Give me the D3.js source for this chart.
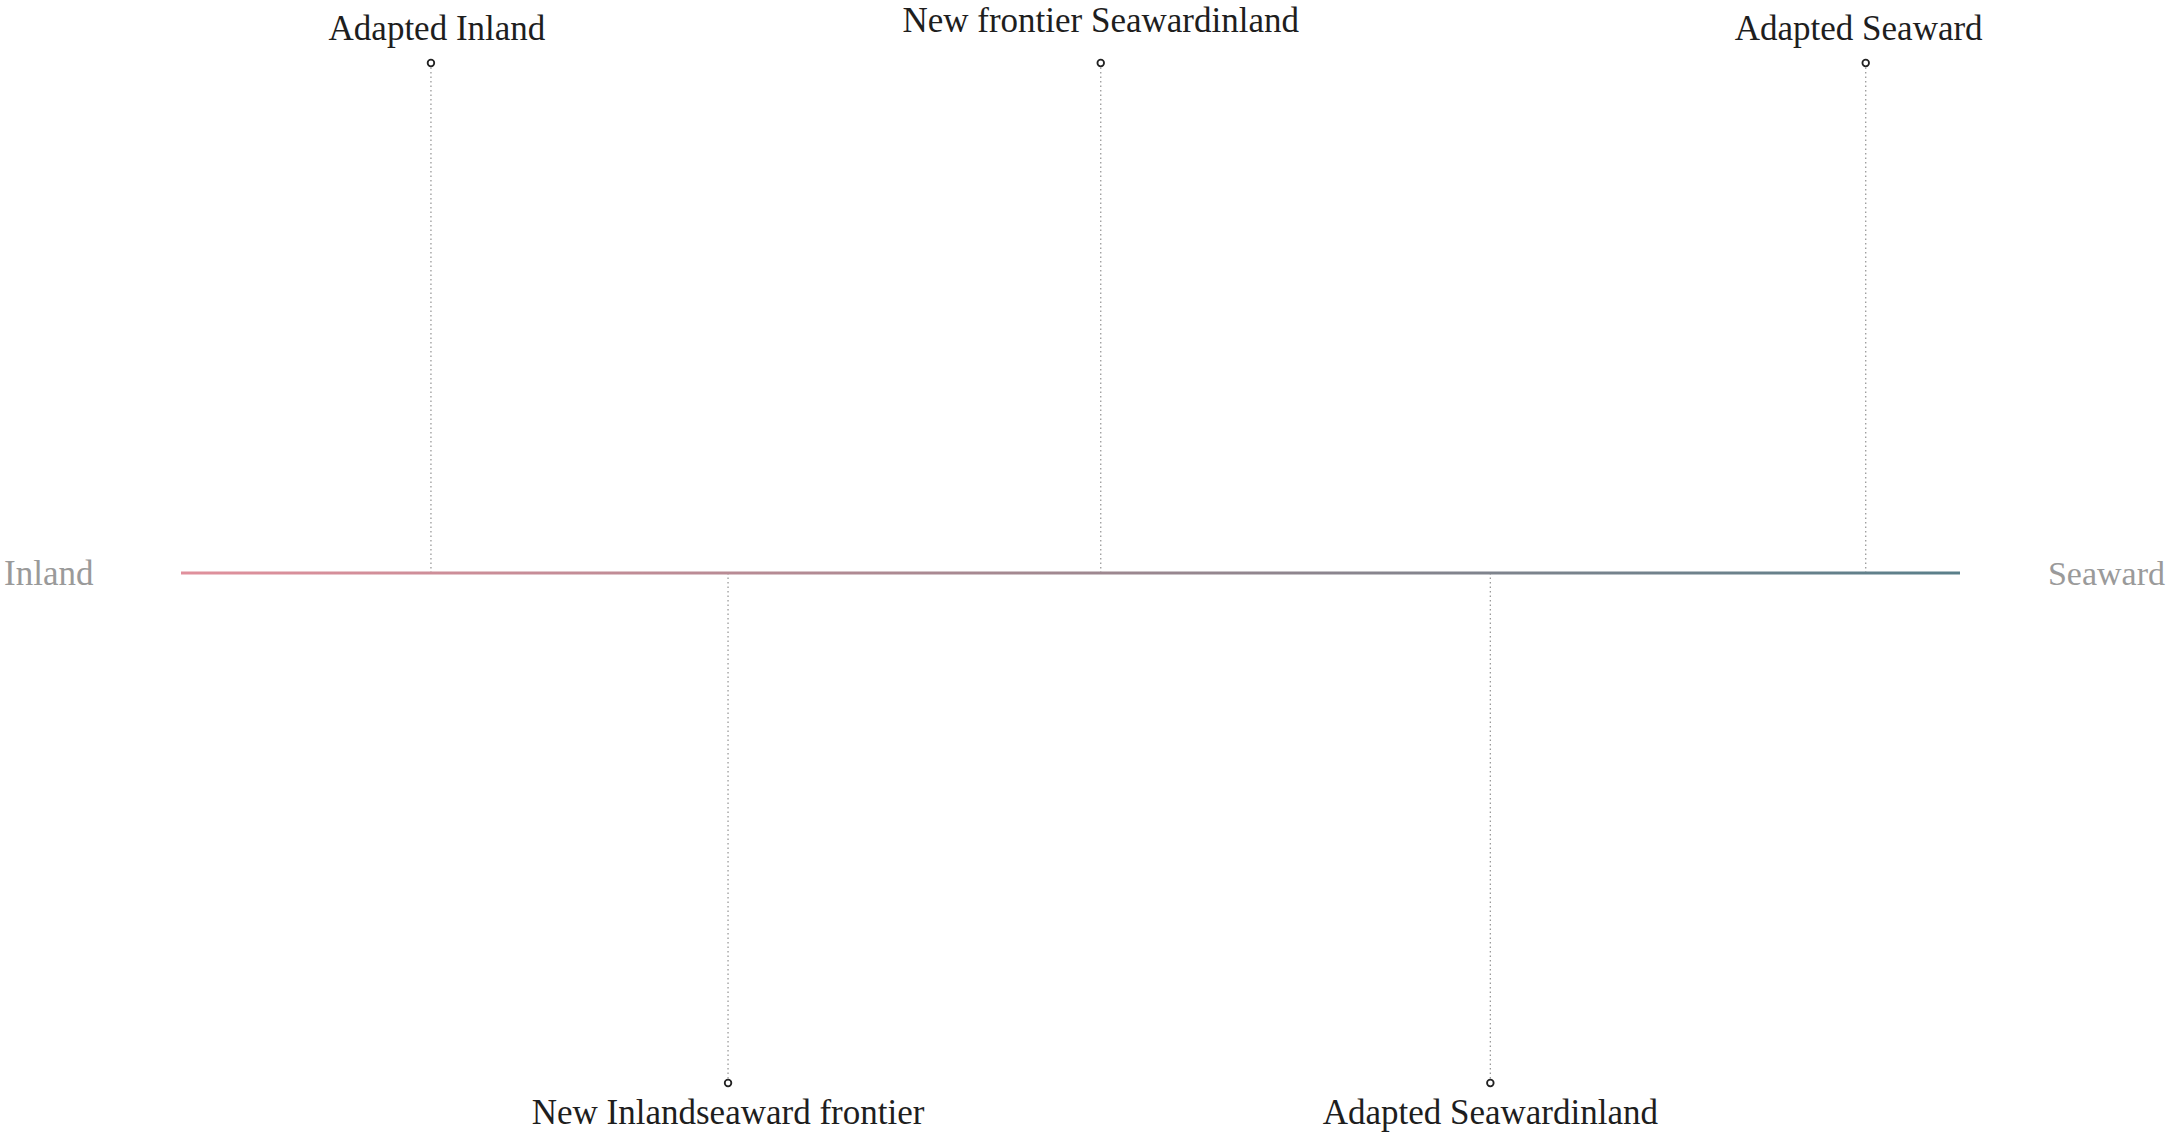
<!DOCTYPE html>
<html>
<head>
<meta charset="utf-8">
<script src="https://cdn.jsdelivr.net/npm/d3@7"></script>
<style>
  html, body { margin: 0; padding: 0; background: #fff; }
  svg { display: block; }
  text { font-family: "Liberation Serif", "DejaVu Serif", serif; }
</style>
</head>
<body>
<svg id="chart" width="2171" height="1133"></svg>
<script>
// ---- data ----
const endLabels = ["Inland", "Seaward"];
const eventNames = ["Adapted Inland", "New Inlandseaward frontier", "New frontier Seawardinland", "Adapted Seaward", "Adapted Seawardinland"];
const eventPositions = [14.05, 30.75, 51.7, 94.7, 73.6];
const eventSides = [1, -1, 1, 1, -1];
const axisDomain = [0, 100];

// ---- layout ----
const W = 2171, H = 1133;
const x0 = 181, x1 = 1960, axisY = 573;
const svg = d3.select("#chart");

const x = d3.scaleLinear().domain(axisDomain).range([x0, x1]);
const y = d3.scaleLinear().domain([-1, 1]).range([1083, 63]);

const defs = svg.append("defs");
const grad = defs.append("linearGradient")
  .attr("id", "axisGrad")
  .attr("gradientUnits", "userSpaceOnUse")
  .attr("x1", x0).attr("x2", x1).attr("y1", 0).attr("y2", 0);
grad.append("stop").attr("offset", "0%").attr("stop-color", "#e0909c");
grad.append("stop").attr("offset", "50%").attr("stop-color", "#a08890");
grad.append("stop").attr("offset", "100%").attr("stop-color", "#5a7f8a");

const events = eventNames.map((n, i) => ({ name: n, pos: eventPositions[i], side: eventSides[i] }));

// dotted stems
svg.selectAll("line.stem").data(events).enter().append("line")
  .attr("class", "stem")
  .attr("x1", d => x(d.pos)).attr("x2", d => x(d.pos))
  .attr("y1", y(0)).attr("y2", d => y(d.side))
  .attr("stroke", "#9a9a9a")
  .attr("stroke-width", 1.3)
  .attr("stroke-dasharray", "1.5,3");

// main axis line
svg.append("line")
  .attr("x1", x0).attr("x2", x1)
  .attr("y1", axisY).attr("y2", axisY)
  .attr("stroke", "url(#axisGrad)")
  .attr("stroke-width", 3);

// circles
svg.selectAll("circle.pt").data(events).enter().append("circle")
  .attr("class", "pt")
  .attr("cx", d => x(d.pos))
  .attr("cy", d => y(d.side))
  .attr("r", 3.3)
  .attr("fill", "#fff")
  .attr("stroke", "#222")
  .attr("stroke-width", 1.8);

// event labels (middle top label sits a little higher)
const labelDx = { "Adapted Inland": 6, "Adapted Seaward": -7 };
svg.selectAll("text.lbl").data(events).enter().append("text")
  .attr("class", "lbl")
  .attr("x", d => x(d.pos) + (labelDx[d.name] || 0))
  .attr("y", d => d.side > 0 ? y(d.side) - (d.name.startsWith("New") ? 31 : 23) : y(d.side) + 41)
  .attr("text-anchor", "middle")
  .attr("font-size", 35)
  .attr("fill", "#1e1e1e")
  .text(d => d.name);

// end labels
svg.append("text")
  .attr("x", 4).attr("y", axisY + 12)
  .attr("font-size", 35)
  .attr("fill", "#9a9a9a")
  .text(endLabels[0]);
svg.append("text")
  .attr("x", W - 6).attr("y", axisY + 12)
  .attr("text-anchor", "end")
  .attr("font-size", 34)
  .attr("fill", "#9a9a9a")
  .text(endLabels[1]);
</script>
</body>
</html>
